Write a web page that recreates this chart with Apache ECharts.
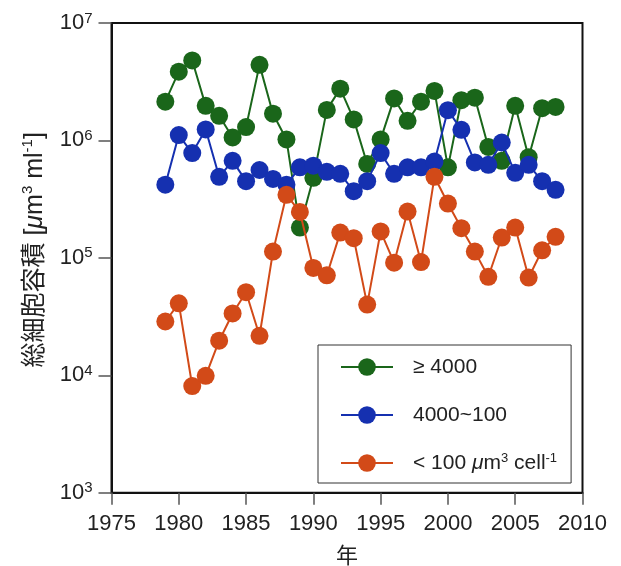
<!DOCTYPE html>
<html>
<head>
<meta charset="utf-8">
<script src="https://cdn.jsdelivr.net/npm/echarts@6/dist/echarts.min.js"></script>
<style>
html,body{margin:0;padding:0;background:#fff;}
#c{width:621px;height:566px;}
</style>
</head>
<body>
<div id="c"></div>
<script>
const years = [1979,1980,1981,1982,1983,1984,1985,1986,1987,1988,1989,1990,1991,1992,1993,1994,1995,1996,1997,1998,1999,2000,2001,2002,2003,2004,2005,2006,2007,2008];
const large = [2.14e6,3.85e6,4.8e6,1.97e6,1.62e6,1.06e6,1.30e6,4.4e6,1.69e6,1.02e6,1.81e5,4.8e5,1.82e6,2.76e6,1.51e6,6.3e5,1.02e6,2.28e6,1.47e6,2.14e6,2.64e6,5.9e5,2.2e6,2.31e6,8.8e5,6.7e5,1.97e6,7.2e5,1.88e6,1.93e6];
const medium = [4.2e5,1.11e6,7.8e5,1.24e6,4.9e5,6.7e5,4.5e5,5.6e5,4.7e5,4.2e5,5.9e5,6.1e5,5.4e5,5.2e5,3.7e5,4.5e5,7.8e5,5.2e5,5.9e5,5.9e5,6.6e5,1.81e6,1.23e6,6.5e5,6.2e5,9.6e5,5.3e5,6.2e5,4.5e5,3.8e5];
const small = [2.87e4,4.1e4,8.1e3,9.9e3,1.97e4,3.36e4,5.1e4,2.17e4,1.13e5,3.44e5,2.46e5,8.2e4,7.1e4,1.64e5,1.47e5,4.0e4,1.68e5,9.1e4,2.48e5,9.2e4,4.9e5,2.9e5,1.79e5,1.13e5,6.9e4,1.49e5,1.81e5,6.8e4,1.16e5,1.51e5];
const seriesNames = ['≥ 4000','4000~100','< 100 μm3 cell-1'];
const legendLabels = ['≥ 4000','4000~100','< 100 {i|μ}m{sup|3} cell{sup|-1}'];
const colors = ['#1a661a','#1530b0','#d24a18'];
const xMin = 1975, xMax = 2010, xInterval = 5;
const yMin = 1e3, yMax = 1e7;

const FONT = '"Liberation Sans", Arial, Helvetica, sans-serif';
const MIXED = '"Liberation Sans", "Noto Sans CJK JP", sans-serif';
const chart = echarts.init(document.getElementById('c'));
const dataSets = [large, medium, small];
const series = dataSets.map((arr, k) => ({
  name: seriesNames[k],
  type: 'line',
  data: years.map((y, i) => [y, arr[i]]),
  symbol: 'circle',
  symbolSize: 18,
  color: colors[k],
  lineStyle: {color: colors[k], width: 2},
  itemStyle: {color: colors[k]},
  z: 2 + k,
  animation: false
}));

chart.setOption({
  animation: false,
  backgroundColor: '#fff',
  grid: {left: 111.5, right: 38.5, top: 23, bottom: 73.3, show: true, borderColor: '#111', borderWidth: 2,
    containLabel: false, outerBoundsMode: 'none'},
  xAxis: {
    type: 'value', min: xMin, max: xMax, interval: xInterval,
    name: '年', nameLocation: 'middle', nameGap: 51,
    nameTextStyle: {fontFamily: '"Noto Sans CJK JP", sans-serif', fontSize: 22, color: '#222'},
    axisLine: {show: true, lineStyle: {color: '#111', width: 2}},
    axisTick: {show: true, inside: false, length: 12, lineStyle: {color: '#555', width: 1.5}},
    axisLabel: {fontFamily: FONT, fontSize: 22, color: '#222', margin: 20, showMaxLabel: true, showMinLabel: true,
      formatter: v => String(v)},
    splitLine: {show: false}
  },
  yAxis: {
    type: 'log', logBase: 10, min: yMin, max: yMax,
    name: '総細胞容積 [{i|μ}m{sup|3} ml{sup|-1}]', nameLocation: 'middle', nameGap: 62, nameRotate: 90,
    nameTextStyle: {
      fontFamily: MIXED, fontSize: 25, color: '#222', lineHeight: 28, padding: [0, 0, 0, 16],
      rich: {
        i: {fontFamily: FONT, fontStyle: 'italic', fontSize: 25, color: '#222', lineHeight: 28},
        sup: {fontFamily: FONT, fontSize: 15, color: '#222', lineHeight: 15, verticalAlign: 'top'}
      }
    },
    axisLine: {show: true, lineStyle: {color: '#111', width: 2}},
    axisTick: {show: true, inside: false, length: 13, lineStyle: {color: '#555', width: 1.5}},
    minorTick: {show: false},
    axisLabel: {
      fontFamily: FONT, fontSize: 22, color: '#222', margin: 19, lineHeight: 24,
      formatter: v => '10{sup|' + Math.round(Math.log10(v)) + '}',
      rich: {sup: {fontFamily: FONT, fontSize: 15, color: '#222', lineHeight: 15, verticalAlign: 'top'}}
    },
    splitLine: {show: false}
  },
  legend: {
    data: seriesNames,
    orient: 'vertical',
    left: 318, top: 345,
    padding: [11, 14, 9, 22],
    borderColor: '#333', borderWidth: 1,
    itemWidth: 52, itemHeight: 22, itemGap: 26,
    formatter: name => legendLabels[seriesNames.indexOf(name)],
    textStyle: {
      fontFamily: FONT, fontSize: 21, color: '#222', lineHeight: 22, padding: [0, 0, 0, 15],
      rich: {
        i: {fontFamily: FONT, fontStyle: 'italic', fontSize: 21, color: '#222', lineHeight: 22},
        sup: {fontFamily: FONT, fontSize: 13, color: '#222', lineHeight: 13, verticalAlign: 'top'}
      }
    }
  },
  series: series
});
</script>
</body>
</html>
